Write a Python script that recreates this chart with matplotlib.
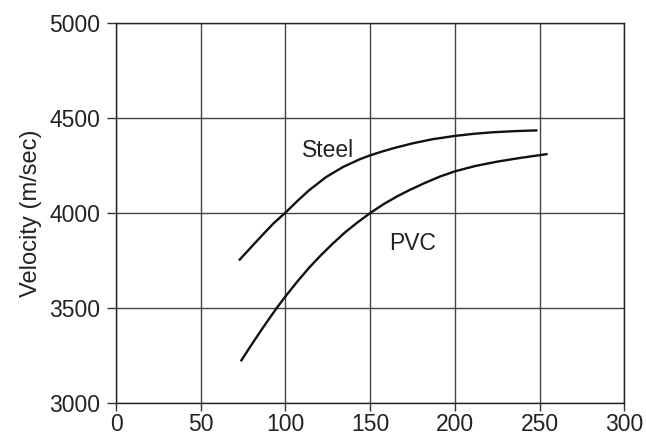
import matplotlib.pyplot as plt

# values
steel_x = [73, 80, 87, 93, 100, 107, 114, 124, 134, 144, 150, 157, 164, 175, 187, 200, 211, 222, 235, 248]
steel_y = [3755, 3823, 3890, 3946, 4002, 4063, 4120, 4189, 4242, 4283, 4303, 4323, 4341, 4366, 4388, 4405, 4416, 4424, 4430, 4434]

pvc_x = [74, 79, 85, 90, 95, 100, 107, 114, 121, 128, 135, 142, 150, 158, 166, 174, 182, 191, 200, 212, 225, 239, 254]
pvc_y = [3226, 3295, 3375, 3440, 3503, 3562, 3640, 3713, 3779, 3840, 3897, 3947, 4000, 4047, 4088, 4124, 4157, 4191, 4219, 4247, 4270, 4290, 4309]

xticks = [0, 50, 100, 150, 200, 250, 300]
yticks = [3000, 3500, 4000, 4500, 5000]

plt.rcParams['font.family'] = ['Liberation Sans', 'DejaVu Sans']

fig = plt.figure(figsize=(6.46, 4.37), dpi=100)
ax = fig.add_axes([0.1796, 0.0771, 0.787, 0.871])

ax.plot(steel_x, steel_y, color='#111111', lw=1.7)
ax.plot(pvc_x, pvc_y, color='#111111', lw=1.7)

ax.text(125, 4326, 'Steel', fontsize=16.5, ha='center', va='center', color='#222222')
ax.text(175, 3842, 'PVC', fontsize=16.5, ha='center', va='center', color='#222222')

ax.set_xlim(0, 300)
ax.set_ylim(3000, 5000)
ax.set_xticks(xticks)
ax.set_yticks(yticks)
ax.tick_params(labelsize=16.5, width=1, color='#333333', labelcolor='#222222')
ax.tick_params(axis='x', length=5.8, pad=1)
ax.tick_params(axis='y', length=6.5, pad=5)
ax.grid(True, color='#444444', lw=1)
for s in ax.spines.values():
    s.set_color('#222222')
    s.set_linewidth(1)
ax.set_ylabel('Velocity (m/sec)', fontsize=17, labelpad=5, color='#222222')

fig.savefig('out.png', dpi=100)
